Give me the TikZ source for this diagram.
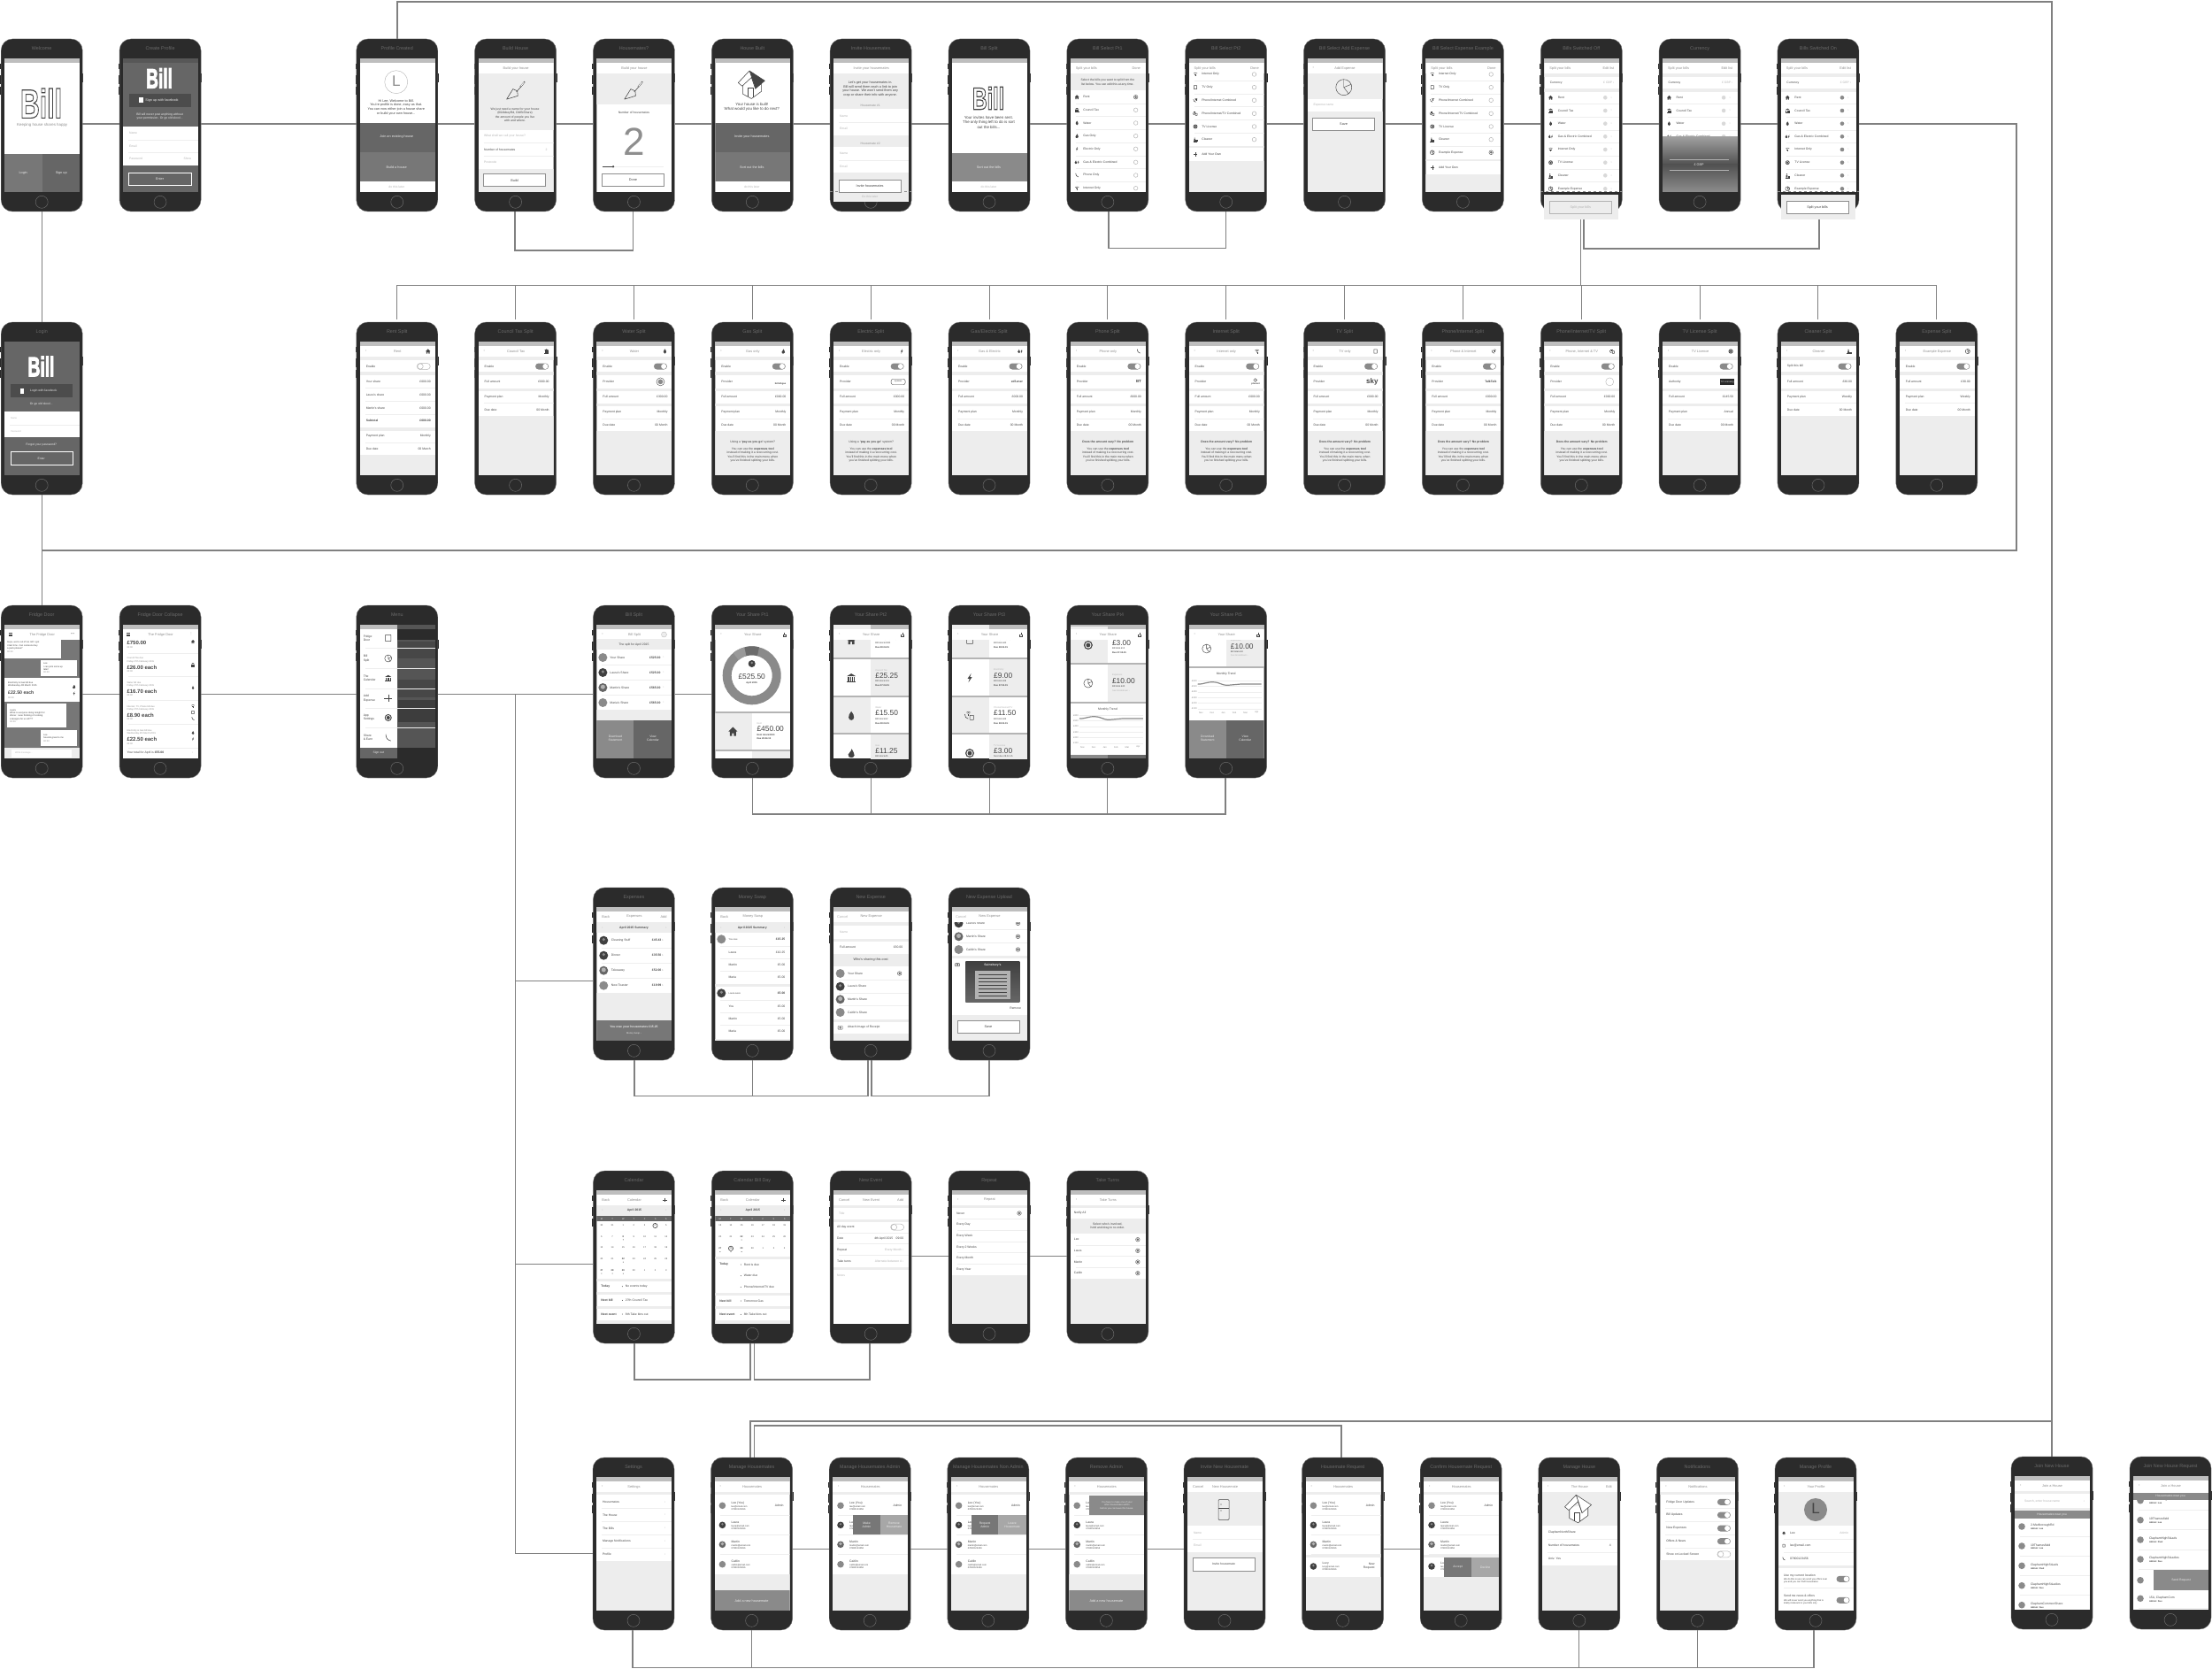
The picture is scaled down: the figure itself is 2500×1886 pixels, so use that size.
\documentclass[tikz,border=0pt]{standalone}
\usepackage{fontspec}
\setmainfont{Liberation Sans}
\newfontfamily\djv{DejaVu Sans}
\usetikzlibrary{calc}
\definecolor{bodyc}{HTML}{2B2B2B}
\definecolor{ttlc}{HTML}{6A6A6A}
\definecolor{txtc}{HTML}{444444}
\definecolor{navc}{HTML}{8E8E8E}
\definecolor{litec}{HTML}{B4B4B4}
\definecolor{bandc}{HTML}{EDEDED}
\definecolor{barc}{HTML}{BEBEBE}
\definecolor{btnA}{HTML}{666666}
\definecolor{btnB}{HTML}{777777}
\definecolor{btnC}{HTML}{8A8A8A}
\definecolor{hairc}{HTML}{EEEEEE}
\definecolor{connc}{HTML}{808080}
\tikzset{
 phonebody/.style={fill=bodyc,draw=ttlc,line width=.4pt,rounded corners=13pt,minimum width=92pt,minimum height=195pt,inner sep=0pt},
 tx/.style={inner sep=0pt,outer sep=0pt,text=txtc,font=\fontsize{3.8}{4.9}\selectfont},
 ttl/.style={text=ttlc,font=\fontsize{5.4}{6}\selectfont},
 navt/.style={text=navc,font=\fontsize{3.9}{5}\selectfont},
 lite/.style={text=litec},
 wt/.style={text=white!92!black},
 tt/.style={font=\fontsize{2.6}{3.3}\selectfont},
 ts/.style={font=\fontsize{3.4}{4.3}\selectfont},
 tm/.style={font=\fontsize{4.4}{5.5}\selectfont},
 conn/.style={draw=connc,line width=1.5pt},
 connt/.style={draw=connc,line width=1pt},
 hair/.style={draw=hairc,line width=.5pt},
 homeb/.style={draw=ttlc,line width=.5pt},
 btnline/.style={draw=navc,line width=.9pt},
}
\newcount\tcnt
\newcommand\xtxt[5]{\global\advance\tcnt by 1\relax\node[tx,#2,#1] (t\the\tcnt) at (#3,#4) {#5};}
\newcommand\xL[4][]{\xtxt{#1}{anchor=west,align=left}{#2}{#3}{#4}}
\newcommand\xC[4][]{\xtxt{#1}{anchor=center,align=center}{#2}{#3}{#4}}
\newcommand\xR[4][]{\xtxt{#1}{anchor=east,align=right}{#2}{#3}{#4}}
\newcommand\xB[5]{\fill[#5] (#1,#2) rectangle (#3,#4);}
\newcommand\bk[2]{\fill[bandc] (0,#1) rectangle (85,#2);}
\newcommand\xH[1]{\draw[hair] (6,#1) -- (85,#1);}
\newcommand\nonempty[2]{\if\relax\detokenize{#1}\relax\else #2\fi}
\newcommand\nav[3]{\fill[white] (0,5.3) rectangle (85,17);
 \nonempty{#1}{\xL[navt]{6}{11}{#1}}\nonempty{#2}{\xC[navt]{42.5}{11}{#2}}\nonempty{#3}{\xR[navt]{79}{11}{#3}}}
\newcommand\btn[5][black!0]{\draw[btnline,fill=#1] (6,#2) rectangle (76,#3);\xC[#4]{41}{#2/2+#3/2}{#5}}
\newcommand\radio[2]{\draw[litec,line width=.5pt] (#1,#2) circle (2.3);}
\newcommand\radioOn[2]{\draw[btnA,line width=.5pt] (#1,#2) circle (2.3);\fill[btnA] (#1,#2) circle (1.4);}
\newcommand\togOn[2]{\fill[btnC,rounded corners=3.5pt] (#1-7.5,#2-3.5) rectangle (#1+7.5,#2+3.5);\fill[white] (#1+3.7,#2) circle (3);}
\newcommand\togOff[2]{\draw[litec,line width=.5pt,rounded corners=3.5pt] (#1-7.5,#2-3.5) rectangle (#1+7.5,#2+3.5);\draw[litec,line width=.5pt,fill=white] (#1-3.7,#2) circle (3.2);}
\newcommand\avG[3][3.8]{\fill[btnC] (#2,#3) circle (#1);}
\newcommand\avD[3][3.8]{\fill[bodyc!90!white] (#2,#3) circle (#1);\fill[btnC] (#2,#3-1) circle (#1*.35);}
\newcommand\avM[3][3.8]{\fill[btnA] (#2,#3) circle (#1);\fill[white!70!black] (#2,#3-.8) circle (#1*.5);}
% icons
\newcommand\icohouse{\fill (-1,0)--(0,-1)--(1,0)--(.7,0)--(.7,1)--(.2,1)--(.2,.4)--(-.2,.4)--(-.2,1)--(-.7,1)--(-.7,0)--cycle;}
\newcommand\icotemple{\fill (-1,-.4)--(0,-1)--(1,-.4)--cycle;\fill (-.8,-.2) rectangle (-.5,.75);\fill (-.3,-.2) rectangle (-.05,.75);\fill (.1,-.2) rectangle (.35,.75);\fill (.55,-.2) rectangle (.8,.75);\fill (-1,.8) rectangle (1,1);}
\newcommand\icodrop{\fill (0,-1) .. controls (.9,0) and (.7,1) .. (0,1) .. controls (-.7,1) and (-.9,0) .. (0,-1);}
\newcommand\icoflame{\fill (.1,-1) .. controls (.3,-.3) and (.8,0) .. (.7,.5) .. controls (.6,.9) and (.3,1) .. (0,1) .. controls (-.4,1) and (-.8,.8) .. (-.7,.3) .. controls (-.6,-.1) and (-.1,-.2) .. (.1,-1);}
\newcommand\icobolt{\fill (.3,-1)--(-.5,.15)--(-.05,.15)--(-.3,1)--(.5,-.2)--(.05,-.2)--cycle;}
\newcommand\icoge{\begin{scope}[shift={(-.55,0)},scale=.8]\icoflame\end{scope}\begin{scope}[shift={(.6,0)},scale=.8]\icobolt\end{scope}}
\newcommand\icophone{\draw[line width=.55pt] (-.6,-.9) .. controls (-.7,0) and (-.1,.7) .. (.7,.8);}
\newcommand\icowifi{\draw[line width=.4pt] (-.9,-.4) .. controls (-.4,-.9) and (.4,-.9) .. (.9,-.4);\draw[line width=.4pt] (-.5,0) .. controls (-.2,-.35) and (.2,-.35) .. (.5,0);\fill (0,.4) circle (.22);\draw[line width=.4pt] (0,.4)--(0,1);}
\newcommand\icotv{\draw[line width=.5pt,rounded corners=.3pt] (-.7,-.85) rectangle (.7,.85);}
\newcommand\icopw{\begin{scope}[shift={(.35,-.3)},scale=.7]\icowifi\end{scope}\begin{scope}[shift={(-.4,.2)},scale=.8]\icophone\end{scope}}
\newcommand\icopwt{\begin{scope}[shift={(-.3,-.5)},scale=.55]\icowifi\end{scope}\begin{scope}[shift={(-.75,.2)},scale=.6]\icophone\end{scope}\begin{scope}[shift={(.45,.4)},scale=.6]\icotv\end{scope}}
\newcommand\icolic{\fill (0,0) circle (1);\fill[white] (0,0) circle (.72);\fill (0,0) circle (.5);}
\newcommand\icoclean{\fill (-.35,-.65) circle (.28);\fill (-.8,1)--(-.6,-.25)--(-.05,-.25)--(.1,1)--cycle;\draw[line width=.35pt] (-1,1)--(1,1);\foreach \q in {.25,.5,.75}{\draw[line width=.4pt] (\q,1)--(\q,.3);}}
\newcommand\icopie{\draw[line width=.45pt] (0,0) circle (1);\draw[line width=.45pt] (0,-1)--(0,0)--(.92,-.38);\draw[line width=.45pt] (0,0)--(.6,.8);}
\newcommand\icoplus{\draw[line width=.4pt] (-1,0)--(1,0);\draw[line width=.4pt] (0,-1)--(0,1);}
\newcommand\icoham{\draw[line width=.45pt] (-1,-.7)--(1,-.7);\draw[line width=.45pt] (-1,0)--(1,0);\draw[line width=.45pt] (-1,.7)--(1,.7);}
\newcommand\icotrowel{\draw[line width=.55pt,line join=round] (-1,.95)--(.15,.6)--(.1,.1)--(-.35,-.1)--cycle;\draw[line width=.55pt] (0,.2)--(.4,-.25);\draw[line width=1.6pt] (.4,-.3)--(.85,-.85);\draw[line width=.9pt,white] (.45,-.38)--(.8,-.8);}
\newcommand\icodown{\draw[line width=.4pt] (0,-1)--(0,.2);\draw[line width=.45pt] (-.6,.2)--(-.6,.9)--(.6,.9)--(.6,.2)--(.3,.2);\fill (-.3,0)--(.3,0)--(0,.4)--cycle;}
\newcommand\icocam{\draw[line width=.4pt,rounded corners=.4pt] (-1,-.6) rectangle (1,.8);\draw[line width=.4pt] (0,.1) circle (.4);}
\newcommand\ico[4]{\begin{scope}[shift={(#2,#3)},scale=#4,color=txtc]\csname ico#1\endcsname\end{scope}}
\newcommand\houseBig[4]{\begin{scope}[shift={(#1,#2)},scale=#3,line join=round]
 \draw[txtc,line width=.55pt,fill=white] (-.65,-.1)--(-.65,.75)--(0,1.1)--(.75,.55)--(.75,-.2);
 \draw[txtc,line width=.55pt,fill=#4] (-.15,-1)--(1,-.25)--(.3,.35)--(-.15,-1);
 \draw[txtc,line width=.55pt,fill=white] (-.15,-1)--(-1,-.1)--(-.7,.15)--(0,-.5)--(.3,.35)--cycle;
 \draw[txtc,line width=.5pt] (-.3,.95)--(-.3,.3)--(.1,.3)--(.1,1);
\end{scope}}
\newfontfamily\logofont{Liberation Sans}
\newcommand\logoFill[3]{\global\advance\tcnt by 1\relax\node[inner sep=0pt,text=white,font=\logofont\fontsize{#3}{#3}\selectfont\bfseries] (t\the\tcnt) at (#1,#2) {\scalebox{.62}[1]{\special{pdf:code 2 Tr 1.1 w}Bill\special{pdf:code 0 Tr 1 w}}};}
\newcommand\logoOut[3]{\global\advance\tcnt by 1\relax\node[inner sep=0pt,text=txtc,font=\logofont\fontsize{#3}{#3}\selectfont\bfseries] (t\the\tcnt) at (#1,#2) {\scalebox{.66}[1]{\special{pdf:code 1 Tr 1.2 w}Bill\special{pdf:code 0 Tr 1 w}}};}
% phone
\newcommand\phone[5]{%
 \fill[bodyc] (#2-1,#3+28) rectangle (#2+1,#3+34);
 \fill[bodyc] (#2-1,#3+41) rectangle (#2+1,#3+51);
 \fill[bodyc] (#2-1,#3+54) rectangle (#2+1,#3+63);
 \fill[bodyc] (#2+91,#3+39) rectangle (#2+93,#3+49);
 \node[phonebody] (#1) at (#2+46,#3+97.5) {};
 \xC[ttl]{#2+46}{#3+11}{#4}
 \draw[homeb] (#2+46,#3+184.3) circle (7);
 \begin{scope}[shift={(#2+4,#3+22)}]
  \clip (0,0) rectangle (85,151);
  \fill[white] (0,0) rectangle (85,151);
  \fill[barc] (0,0) rectangle (85,5.3);
  #5
 \end{scope}}
\newcommand\ovl[3]{\begin{scope}[shift={(#1+4,#2+22)}]#3\end{scope}}
% list rows
\newcommand\lrow[4]{\ico{#2}{7.3}{#1}{2.4}\xL[ts]{14.6}{#1}{#3}\ifnum#4=1 \radioOn{73.8}{#1}\else\radio{73.8}{#1}\fi}
\newcommand\srow[4]{\ico{#2}{7.3}{#1}{2.4}\xL[ts]{15.5}{#1}{#3}\fill[#4] (69,#1) circle (2.3);\xC[ts,lite]{76}{#1}{›}}
\newcommand\billslist[1]{\nav{Split your bills}{}{Edit list}\bk{17}{21.3}\xL[ts]{6.5}{27.3}{Currency}\xR[ts,lite]{79}{27.3}{£ GBP ›}\bk{34}{38}
 \srow{44.3}{house}{Rent}{#1}\xH{51.5}\srow{59}{temple}{Council Tax}{#1}\xH{66.3}\srow{73.7}{drop}{Water}{#1}\xH{81}\srow{88.3}{ge}{Gas \& Electric Combined}{#1}\xH{95.7}\srow{103}{wifi}{Internet Only}{#1}\xH{110.3}\srow{117.7}{lic}{TV License}{#1}\xH{125}\srow{132.3}{clean}{Cleaner}{#1}\xH{139.7}\srow{147.3}{pie}{Example Expense}{#1}}
\newcommand\selecttail[1]{\nav{Split your bills}{}{Done}\lrow{18}{wifi}{Internet Only}{0}\xH{25.3}\lrow{32.7}{tv}{TV Only}{0}\xH{40}\lrow{47.3}{pw}{Phone/Internet Combined}{0}\xH{54.7}\lrow{62.3}{pwt}{Phone/Internet/TV Combined}{0}\xH{69.7}\lrow{77}{lic}{TV License}{0}\xH{84.3}\lrow{91.7}{clean}{Cleaner}{0}#1}
\newcommand\sR[3]{\xL[ts]{7}{#1}{#2}\xR[ts]{80}{#1}{#3}}
\newcommand\splithead[2]{\xL[navt]{6}{11}{‹}\xC[navt]{42.5}{11}{#1}\ico{#2}{77}{11}{2.6}}
\newcommand\fiveSplit[6]{\nav{}{}{}\splithead{#1}{#2}\bk{17}{21}\sR{28}{Enable}{}\togOn{72}{28}\bk{34}{38}\xL[ts]{7}{45.4}{#3}#4\bk{52.5}{56}\sR{62.2}{Full amount}{#5}\bk{69.5}{73}\sR{79.7}{Payment plan}{#6}\xH{87}\sR{94.4}{Due date}{00 Month}\bk{101}{151}}
\newcommand\probA{\xC[ts]{42.5}{113.6}{Using a \textbf{‘pay as you go’} system?}\xC[ts]{42.5}{128}{You can use the \textbf{expenses tool}\\instead of making it a reoccurring cost.\\You’ll find this in the main menu when\\you’ve finished splitting your bills.}}
\newcommand\probB{\xC[ts]{42.5}{113.6}{\textbf{Does the amount vary? No problem}}\xC[ts]{42.5}{128}{You can use the \textbf{expenses tool}\\instead of making it a reoccurring cost.\\You’ll find this in the main menu when\\you’ve finished splitting your bills.}}
\newcommand\fourSplit[5]{\nav{}{}{}\splithead{#1}{#2}\bk{17}{21}\sR{28}{#3}{}\togOn{72}{28}\bk{34}{38}\sR{45.4}{Full amount}{#4}\bk{52.5}{56}\sR{62.2}{Payment plan}{#5}\xH{69.5}\sR{77}{Due date}{00 Month}\bk{84.4}{151}}
\newcommand\card[8]{\ifnum#3=0 \fill[bandc] (0,#1) rectangle (42,#2);\else\fill[bandc] (42,#1) rectangle (85,#2);\fi
 \fill[litec] (0,#2) rectangle (85,#2+1.8);\ico{#4}{20}{#1+21}{5}\xL[tt,lite]{47.2}{#1+12}{#5}\xL[font=\fontsize{8.4}{9}\selectfont]{47.2}{#1+18.3}{#6}\xL[tt]{47.2}{#1+24.6}{#7}\xL[tt]{47.2}{#1+29.3}{\textbf{#8}}}
\newcommand\trend[1]{\foreach \j [count=\ii] in {£600,£500,£400,£300,£200,£100}{\draw[hair] (10,#1+\ii*6.33-6.33) -- (82,#1+\ii*6.33-6.33);\xR[tt,text=navc]{9}{#1+\ii*6.33-6.33}{\j}}
 \draw[btnC,line width=1.2pt] (10,#1+3.8) .. controls (18,#1+3.8) and (20,#1+1) .. (28,#1+1.5) .. controls (36,#1+2) and (36,#1+5) .. (44,#1+5) .. controls (52,#1+5) and (52,#1+3.6) .. (60,#1+3.6) -- (82,#1+3.6);
 \foreach \j [count=\ii] in {Nov,Dec,Jan,Feb,Mar,Apr}{\xC[tt,text=navc]{\ii*12.6+1}{#1+36}{\j}}}
\newcommand\twobtn{\fill[btnC] (0,107.7) rectangle (42,151);\fill[btnA] (42,107.7) rectangle (85,151);\xC[ts,wt]{21}{128}{Download\\Statement}\xC[ts,wt]{63.5}{128}{View\\Calendar}}
\newcommand\calrow[2]{\foreach \d [count=\ii] in {#2}{\xC[tt]{\ii*12.15-6.65}{#1}{\d}}}
\newcommand\calhead{\bk{17.3}{29.3}\xC[ts]{42.5}{22.7}{\textbf{April 2015}}\xL[ts,lite]{6}{22.7}{‹}\xR[ts,lite]{79}{22.7}{›}\fill[btnA] (0,29.3) rectangle (85,35);\foreach \d [count=\ii] in {M,T,W,T,F,S,S}{\xC[tt,wt]{\ii*12.15-6.65}{32.2}{\d}}}
\newcommand\calitem[3]{\xL[ts]{5}{#1}{\textbf{#2}}\fill[txtc] (29,#1) circle (.5);\xL[ts]{32.5}{#1}{#3}}
\newcommand\mate[5]{#5{8.8}{#1}\xL[ts]{19}{#1-3}{#2}\xL[tt]{19}{#1+1}{#3}\xL[tt]{19}{#1+3.8}{#4}}
\newcommand\housemates{\bk{17}{20.3}\mate{32.3}{Lee (You)}{lee@email.com}{07800123456}{\avG}\xR[ts]{78}{32.3}{Admin}\xH{43.3}\mate{54.3}{Laura}{laura@email.com}{07800123456}{\avD}\xH{65.3}\mate{76.3}{Martin}{martin@email.com}{07800123456}{\avM}\xH{87.7}}
\newcommand\caitlin{\mate{98.7}{Caitlin}{caitlin@email.com}{07800123456}{\avG}\bk{110}{151}}
\newcommand\lucy{\bk{87.7}{91}\mate{101}{Lucy}{lucy@email.com}{07800123456}{\avD}\bk{112.7}{151}}
\newcommand\joinrow[3]{\xH{#1+11}\avG{8}{#1}\xL[ts]{18}{#1-1}{#2}\xL[tt]{18}{#1+3}{\textbf{Admin: #3}}}
\newcommand\hlk[3]{\draw[conn] ([yshift=#3pt]#1.east) -- ([yshift=#3pt]#2.west);}
\newcommand\ulink[5]{\draw[conn] ([xshift=#2pt]#1.south) -- ++(0,#5) -| ([xshift=#4pt]#3.south);}
\begin{document}
\begin{tikzpicture}[x=1pt,y=-1pt]
\useasboundingbox (0,0) rectangle (2500,1886);
\fill[white] (0,0) rectangle (2500,1886);
%% ROW 1
\phone{welcome}{1.2}{44}{Welcome}{\logoOut{41.3}{50.7}{46}\xC[tm,text=navc]{42.5}{75}{Keeping house shares happy}
 \xB{0}{108}{42.5}{151}{btnB}\xB{42.5}{108}{85}{151}{btnA}\xC[wt]{21}{129.7}{Login}\xC[wt]{64}{129.7}{Sign up}}
\phone{create}{135.05}{44}{Create Profile}{\xB{0}{5.3}{85}{121.3}{btnA}\xB{0}{0}{85}{5.3}{btnA!85!black}\xB{0}{121.3}{85}{151}{btnA}\logoFill{41}{22.3}{31}
 \xB{7.3}{40}{76.6}{55}{btnA!75!black}\xB{18}{44.5}{23}{50.5}{white}\xC[wt]{44}{47.7}{Sign up with facebook}\xC[ts,wt]{41.5}{65.8}{Bill will never post anything without\\your permission. Or go old skool...}
 \xB{0}{77.3}{85}{121.3}{white}\xL[ts,lite]{7}{84.7}{Name}\xH{92}\xL[ts,lite]{7}{99}{Email}\xH{106.5}\xL[ts,lite]{7}{113.7}{Password}\xR[ts,lite]{77}{113.7}{Show}
 \draw[white,line width=.9pt] (6.4,129) rectangle (77.4,143.3);\xC[wt]{41.5}{136}{Enter}}
\phone{created}{402.75}{44}{Profile Created}{\draw[litec,line width=.4pt] (41,26.7) circle (13);\xC[font=\fontsize{17}{18}\selectfont,text=navc]{41}{26}{L}
 \xC{41}{55.4}{Hi Lee, Welcome to Bill.\\You’re profile is done, easy as that.\\You can now either join a house share\\or build your own house...}
 \xB{0}{72.7}{85}{106}{btnA}\xC[wt]{41.5}{89}{Join an existing house}\xB{0}{106}{85}{139}{btnB}\xC[wt]{41.5}{122.7}{Build a house}\xC[ts,lite]{41.5}{145.3}{do this later}}
\phone{build}{536.6}{44}{Build House}{\nav{}{Build your house}{}\bk{17}{80.7}\ico{trowel}{43}{35.7}{11}
 \xC[ts]{41.5}{63.8}{We just need a name for your house\\(60AbbeyRd, OldStShare)\\the amount of people you live\\with and where.}
 \xL[ts,lite]{6.5}{88}{What shall we call your house?}\xH{95.5}\xL[ts]{6.5}{103}{Number of housemates}\xR[ts,lite]{78}{103}{2}\xH{110.5}\xL[ts,lite]{6.5}{117.7}{Postcode}\bk{124.7}{151}\btn{130.7}{144.7}{}{Build}}
\phone{mates}{670.45}{44}{Housemates?}{\nav{}{Build your house}{}\bk{17}{52.3}\ico{trowel}{42.3}{35.7}{11}\xC[ts]{42}{61.7}{Number of housemates}
 \xC[font=\fontsize{44}{46}\selectfont,text=navc]{42}{94}{2}\draw[hair] (6.3,122.3) -- (76,122.3);\draw[txtc,line width=.5pt] (6.3,122.3) -- (18.6,122.3);\fill[txtc] (18.6,122.3) circle (1.3);\btn{130.7}{144.7}{}{Done}}
\phone{built}{804.3}{44}{House Built}{\houseBig{41}{29}{15}{txtc}\xC[tm]{41.5}{54.8}{Your house is built!\\What would you like to do next?}
 \xB{0}{72.7}{85}{106}{btnA}\xC[wt]{41.5}{89}{Invite your housemates}\xB{0}{106}{85}{139}{btnB}\xC[wt]{41.5}{122.7}{Sort out the bills}\xC[ts,lite]{41.5}{145.3}{do this later}}
\phone{invite}{938.15}{44}{Invite Housemates}{\nav{}{Invite your housemates}{}\bk{17}{57.3}\xC{41.5}{34.5}{Let’s get your housemates in.\\Bill will send them each a link to join\\your house. We won’t send them any\\crap or share their info with anyone.}\xC[ts,text=navc]{41.5}{53.3}{Housemate \#1}
 \xL[ts,lite]{7}{65}{Name}\xH{72.3}\xL[ts,lite]{7}{79.7}{Email}\bk{86.7}{100}\xC[ts,text=navc]{41.5}{96}{Housemate \#2}\xL[ts,lite]{7}{107.7}{Name}\xH{115}\xL[ts,lite]{7}{122.3}{Email}\bk{129}{151}}
\ovl{938.15}{44}{\fill[bandc] (0,151) rectangle (85,162.3);\draw[navc,line width=.3pt,dashed] (-4,150) -- (88,150);\btn{137.3}{151.3}{}{Invite housemates}\xC[ts,lite]{41}{156.3}{Do this later}}
\phone{billsplit1}{1072}{44}{Bill Split}{\logoOut{41}{45}{35}\xC[tm]{41.5}{72.3}{Your invites have been sent.\\The only thing left to do is sort\\out the bills...}\xB{0}{106.7}{85}{139}{btnC}\xC[wt]{41.5}{122.7}{Sort out the bills}\xC[ts,lite]{41.5}{145.3}{do this later}}
\phone{sel1}{1205.85}{44}{Bill Select Pt1}{\nav{Split your bills}{}{Done}\bk{17}{36.3}\xC[ts]{42}{27}{Select the bills you want to split from the\\list below. You can edit this at any time.}
 \lrow{43.7}{house}{Rent}{1}\xH{51}\lrow{58.3}{temple}{Council Tax}{0}\xH{65.6}\lrow{73}{drop}{Water}{0}\xH{80.3}\lrow{87.7}{flame}{Gas Only}{0}\xH{95}\lrow{102.3}{bolt}{Electric Only}{0}\xH{109.8}\lrow{117.3}{ge}{Gas \& Electric Combined}{0}\xH{124.6}\lrow{132}{phone}{Phone Only}{0}\xH{139.3}\lrow{146.7}{wifi}{Internet Only}{0}}
\phone{sel2}{1339.7}{44}{Bill Select Pt2}{\selecttail{\bk{99.3}{101.3}\ico{plus}{7.3}{108.7}{2.2}\xL[ts]{14.6}{108.7}{Add Your Own}\bk{115.7}{151}}}
\phone{seladd}{1473.55}{44}{Bill Select Add Expense}{\nav{‹}{Add Expense}{}\bk{17}{45.7}\ico{pie}{41.2}{32.7}{9}\xL[ts,lite]{7}{53}{Expense name}\bk{60}{151}\btn{67.3}{81.7}{}{Save}}
\phone{selex}{1607.4}{44}{Bill Select Expense Example}{\selecttail{\xH{99}\ico{pie}{7.3}{106.3}{2.4}\xL[ts]{14.6}{106.3}{Example Expense}\radioOn{73.8}{106.3}\bk{113.7}{116}\ico{plus}{7.3}{123.7}{2.2}\xL[ts]{14.6}{123.7}{Add Your Own}\bk{130.7}{151}}}
\phone{billsoff}{1741.25}{44}{Bills Switched Off}{\billslist{black!15}}
\ovl{1741.25}{44}{\fill[bandc] (0,154) rectangle (84,181.7);\draw[navc,line width=.3pt,dashed] (-4,150.5) -- (88,150.5);\draw[btnline,draw=litec] (6,161.3) rectangle (76,175.7);\xC[lite]{41}{168.5}{Split your bills}}
\phone{currency}{1875.1}{44}{Currency}{\nav{Split your bills}{}{Edit list}\bk{17}{21.3}\xL[ts]{6.5}{27.3}{Currency}\xR[ts,lite]{79}{27.3}{£ GBP ›}\bk{34}{38}
 \srow{44.3}{house}{Rent}{black!15}\xH{51.5}\srow{59}{temple}{Council Tax}{black!15}\xH{66.3}\srow{73.7}{drop}{Water}{black!15}\xH{81}\srow{88.3}{ge}{Gas \& Electric Combined}{black!15}
 \shade[top color=black!38,bottom color=black!68] (0,89) rectangle (85,120);\shade[top color=black!68,bottom color=black!45] (0,120) rectangle (85,151);\draw[white!70!black,line width=.3pt] (7.6,114.3) -- (74.7,114.3);\draw[white!70!black,line width=.3pt] (7.6,126) -- (74.7,126);\xC[wt]{41}{120.3}{£ GBP}}
\phone{billson}{2008.95}{44}{Bills Switched On}{\billslist{btnC}}
\ovl{2008.95}{44}{\fill[bandc] (0,154) rectangle (84,181.7);\draw[navc,line width=.3pt,dashed] (-4,150.5) -- (88,150.5);\btn{161.3}{175.7}{}{Split your bills}}
%% ROW 2
\phone{login}{1.2}{364}{Login}{\xB{0}{0}{85}{151}{btnA}\logoFill{41.3}{28}{31}\xB{7}{48}{77}{63}{btnA!75!black}\xB{17.5}{52.5}{21.5}{58.5}{white}\xC[ts,wt]{44}{55.5}{Login with facebook}\xC[ts,wt]{41.5}{71}{Or go old skool...}
 \xB{0}{79}{85}{108.3}{white}\xL[tt,lite]{7}{86.9}{Name}\xH{94}\xL[tt,lite]{7}{101.1}{Password}\xC[ts,wt]{41.5}{116.5}{Forgot your password?}\draw[white,line width=.9pt] (7,124.7) rectangle (77,139.7);\xC[ts,wt]{41.5}{132}{Enter}}
\phone{rents}{402.75}{364}{Rent Split}{\nav{}{}{}\splithead{Rent}{house}\bk{17}{21}\sR{28}{Enable}{}\togOff{72}{28}\bk{34}{38}\sR{45.4}{Your share}{£000.00}\xH{52.7}\sR{60}{Laura’s share}{£000.00}\xH{67.4}\sR{75}{Martin’s share}{£000.00}\xH{82.4}\sR{89.7}{\textbf{Subtotal}}{\textbf{£000.00}}\bk{97}{101}\sR{106.9}{Payment plan}{Monthly}\xH{114.2}\sR{121.5}{Due date}{00 March}\bk{128}{151}}
\phone{councils}{536.6}{364}{Council Tax Split}{\fourSplit{Council Tax}{temple}{Enable}{£000.00}{Monthly}}
\phone{waters}{670.45}{364}{Water Split}{\fiveSplit{Water}{drop}{Provider}{\draw[txtc,line width=.4pt] (72,45.4) circle (4.5);\fill[btnC] (72,45.4) circle (2.8);}{£300.00}{Monthly}}
\phone{gass}{804.3}{364}{Gas Split}{\fiveSplit{Gas only}{flame}{Provider}{\xR[tt]{80}{47.5}{\textbf{britishgas}}}{£000.00}{Monthly}\probA}
\phone{elecs}{938.15}{364}{Electric Split}{\fiveSplit{Electric only}{bolt}{Provider}{\draw[txtc,line width=.4pt,rounded corners=2pt] (65,42.5) rectangle (81,48.5);\xC[tt]{73}{45.5}{npower}}{£000.00}{Monthly}\probA}
\phone{ges}{1072}{364}{Gas/Electric Split}{\fiveSplit{Gas \& Electric}{ge}{Provider}{\xR[ts]{80}{45.4}{\textbf{edf.ener}}}{£000.00}{Monthly}}
\phone{phones}{1205.85}{364}{Phone Split}{\fiveSplit{Phone only}{phone}{Provider}{\xR[tm]{80}{45.4}{\textbf{BT}}}{£000.00}{Monthly}\probB}
\phone{nets}{1339.7}{364}{Internet Split}{\fiveSplit{Internet only}{wifi}{Provider}{\xR[tt]{80}{48}{\textbf{plusnet}}\draw[txtc,line width=.4pt] (75,43.5) circle (1.8);}{£000.00}{Monthly}\probB}
\phone{tvs}{1473.55}{364}{TV Split}{\fiveSplit{TV only}{tv}{Provider}{\xR[font=\fontsize{8}{9}\selectfont]{80}{45.4}{\textbf{sky}}}{£000.00}{Monthly}\probB}
\phone{pis}{1607.4}{364}{Phone/Internet Split}{\fiveSplit{Phone \& Internet}{pw}{Provider}{\xR[ts]{80}{45.4}{\textbf{TalkTalk}}}{£000.00}{Monthly}\probB}
\phone{pits}{1741.25}{364}{Phone/Internet/TV Split}{\fiveSplit{Phone, Internet \& TV}{pwt}{Provider}{\draw[litec,line width=.4pt] (74,45.4) circle (4.5);}{£000.00}{Monthly}\probB}
\phone{lics}{1875.1}{364}{TV License Split}{\fiveSplit{TV Licence}{lic}{Authority}{\xB{65}{42}{81}{49}{bodyc}\xC[tt,wt]{73}{45.5}{TV Licensing}}{£145.50}{Annual}}
\phone{cleans}{2008.95}{364}{Cleaner Split}{\fourSplit{Cleaner}{clean}{Split this bill}{£30.00}{Weekly}}
\phone{exps}{2142.8}{364}{Expense Split}{\fourSplit{Example Expense}{pie}{Enable}{£30.00}{Weekly}}
%% ROW 3
\phone{fridge}{1.2}{684}{Fridge Door}{\xB{0}{5.3}{85}{151}{btnB}\nav{}{The Fridge Door}{}\ico{ham}{6.3}{11}{2}\xR[navt]{79}{10.5}{•••}
 \xB{0}{16.9}{63.7}{37.6}{white}\xL[tt]{3}{25}{Guys, we’re out of loo roll! I got\\it last time. Can someone buy\\a pack please?\\[.3pt]\textcolor{navc}{00:00}}
 \xB{40.7}{40}{82}{58}{white}\xL[tt]{44}{49}{Lee\\I can pick some up\\later!\\[.3pt]\textcolor{navc}{00:00}}
 \xB{0}{60}{85}{86.9}{white}\xL[tt]{4}{67}{Electricity \& Gas bill due\\Wednesday 4th March 2015}\xL[font=\fontsize{5.2}{6}\selectfont]{4}{76.9}{\textbf{£22.50 each}}\xL[tt,text=navc]{4}{82.5}{00:00}\ico{flame}{78.5}{70}{2.2}\ico{bolt}{78.5}{77.5}{2.2}
 \xB{2.5}{89.4}{70}{116}{white}\xL[tt]{6}{103}{Laura\\What is everyone doing tonight for\\dinner. I was thinking of cooking\\a lasagne for us all???\\[.3pt]\textcolor{navc}{00:00}}
 \xB{40.7}{119}{82}{136.5}{white}\xL[tt]{44}{128}{Lee\\Sounds great to me\\[.3pt]\textcolor{navc}{00:00}}
 \xB{0}{139.4}{85}{151}{bandc}\xB{8}{140.5}{76}{149.5}{white}\xL[tt,lite]{12}{145}{Write message...}}
\phone{fridgec}{135.05}{684}{Fridge Door Collapse}{\nav{}{The Fridge Door}{}\ico{ham}{6.3}{11}{2}\xR[navt]{79}{10.5}{{\djv ⋮}}\xL[font=\fontsize{6}{7}\selectfont]{4.5}{20.4}{\textbf{£750.00}}\xL[tt,text=navc]{4.5}{26}{00:00}\ico{house}{79}{19}{2}\xH{32}
 \xL[tt,text=navc]{4.5}{39.7}{Council Tax due\\Friday 27th February 2015}\xL[font=\fontsize{6}{7}\selectfont]{4.5}{48}{\textbf{£26.00 each}}\xL[tt,text=navc]{4.5}{53}{00:00}\ico{temple}{79}{45}{2}\xH{58}
 \xL[tt,text=navc]{4.5}{67}{Water bill due\\Friday 27th February 2015}\xL[font=\fontsize{6}{7}\selectfont]{4.5}{75}{\textbf{£16.70 each}}\xL[tt,text=navc]{4.5}{80}{00:00}\ico{drop}{79}{71}{2}\xH{85.4}
 \xL[tt,text=navc]{4.5}{94}{Internet, TV, Phone bill due\\Friday 27th February 2015}\xL[font=\fontsize{6}{7}\selectfont]{4.5}{102}{\textbf{£8.90 each}}\xL[tt,text=navc]{4.5}{107}{00:00}\ico{wifi}{79}{92}{2}\ico{tv}{79}{99}{2}\ico{phone}{79}{106}{2}\xH{112.6}
 \xL[tt,text=navc]{4.5}{121}{Electricity \& Gas bill due\\Wednesday 4th March 2015}\xL[font=\fontsize{6}{7}\selectfont]{4.5}{129.4}{\textbf{£22.50 each}}\xL[tt,text=navc]{4.5}{135}{00:00}\ico{flame}{79}{122}{2}\ico{bolt}{79}{129}{2}\xH{139.4}
 \xL[ts]{4.5}{144.7}{Your total for April is \textbf{£55.00}}\xR[ts,lite]{79}{144.7}{›}}
\phone{menu}{402.75}{684}{Menu}{\xB{0}{0}{85}{151}{bodyc!80!white}\xB{0}{0}{42}{5.3}{barc}\xB{42}{5.3}{85}{17}{bodyc}\xB{43}{19}{85}{38}{btnA!70!black}\xB{43}{62}{85}{82}{btnA!70!black}\xB{43}{85}{85}{110}{btnA!60!black}\xB{42}{139.4}{85}{151}{bodyc}
 \xB{0}{5.3}{42}{151}{white}\xL[ts]{4}{15}{Fridge\\Door}\xL[ts]{4}{38}{Bill\\Split}\xL[ts]{4}{60.4}{The\\Calendar}\xL[ts]{4}{83}{Add\\Expense}\xL[ts]{4}{105}{App\\Settings}\xL[ts]{4}{127.6}{Share\\\& Earn}
 \ico{tv}{32}{15}{4.4}\ico{pie}{32}{38}{4}\ico{temple}{32}{60.4}{3.6}\ico{plus}{32}{83}{4.4}\ico{lic}{32}{105}{4}\ico{phone}{32}{127.6}{4.4}\xH{26.5}\xH{49}\xH{72}\xH{94}\xH{116}
 \xB{0}{139.4}{42}{151}{btnA}\xC[ts,wt]{21}{145}{Sign out}}
\phone{split}{670.45}{684}{Bill Split}{\nav{‹}{Bill Split}{}\draw[litec,fill=bandc,line width=.3pt] (76,11) circle (3);\bk{16.3}{28.3}\xC[ts]{42}{22.7}{The split for April 2015}
 \avG[5]{6.9}{37}\xL[ts]{15}{37}{Your Share}\xR[ts]{72}{37}{\textbf{£525.00}}\xR[ts,lite]{76}{37}{›}\xH{45.5}\avD[5]{6.9}{54}\xL[ts]{15}{54}{Laura’s Share}\xR[ts]{72}{54}{\textbf{£525.00}}\xR[ts,lite]{76}{54}{›}\xH{62.5}\avM[5]{6.9}{71}\xL[ts]{15}{71}{Martin’s Share}\xR[ts]{72}{71}{\textbf{£565.00}}\xR[ts,lite]{76}{71}{›}\xH{79.5}\avG[5]{6.9}{88}\xL[ts]{15}{88}{Maria’s Share}\xR[ts]{72}{88}{\textbf{£565.00}}\xR[ts,lite]{76}{88}{›}\bk{96.3}{107.7}\twobtn}
\phone{sh1}{804.3}{684}{Your Share Pt1}{\nav{‹}{Your Share}{}\ico{down}{78}{11}{2.4}\draw[btnC,line width=10pt] (41.4,57.3) circle (28);\draw[black!40,line width=10pt] ([shift={(-130:28)}]41.4,57.3) arc (-130:-105:28);\draw[black!58,line width=10pt] ([shift={(-105:28)}]41.4,57.3) arc (-105:-75:28);\avD[4]{41.4}{44}\xC[font=\fontsize{8.4}{9}\selectfont]{41.4}{59}{£525.50}\xC[tt]{41.4}{66}{\textbf{April 2015}}
 \fill[litec] (0,97.7) rectangle (85,99.5);\card{99.5}{140.7}{0}{house}{Rent}{£450.00}{\textbf{Rent total £2000}}{Due 28.04.15}\xB{42}{142.5}{85}{151}{bandc}}
\phone{sh2}{938.15}{684}{Your Share Pt2}{\card{-4}{37.3}{0}{house}{Rent}{£450.00}{Bill total £2000}{Due 28.04.15}\card{39.1}{80}{1}{temple}{Council Tax}{£25.25}{Bill total £101}{Due 27.04.15}\card{81.8}{122.3}{0}{drop}{Water}{£15.50}{Bill total £62}{Due 28.04.15}\card{124.1}{165}{1}{flame}{Gas}{£11.25}{Bill total £45}{Due 28.04.15}\nav{‹}{Your Share}{}\ico{down}{78}{11}{2.4}}
\phone{sh3}{1072}{684}{Your Share Pt3}{\card{-4}{37.3}{0}{tv}{TV}{£3.00}{Bill total £40}{Due 28.04.15}\card{39.1}{80}{1}{bolt}{Electricity}{£9.00}{Bill total £36}{Due 27.04.15}\card{81.8}{122.3}{0}{pwt}{Phone/Internet/TV}{£11.50}{Bill total £46}{Due 28.04.15}\card{124.1}{165}{1}{lic}{TV License}{£3.00}{Next due 28.04.15}{}\nav{‹}{Your Share}{}\ico{down}{78}{11}{2.4}}
\phone{sh4}{1205.85}{684}{Your Share Pt4}{\card{2}{43.3}{0}{lic}{TV License}{£3.00}{Bill total £12}{Due 27.04.15}\card{45.1}{86.7}{1}{pie}{Expenses}{£10.00}{Bill total £40}{}\xL[tt,lite]{47.2}{74.5}{See breakdown ›}\xC[ts]{42}{95.3}{Monthly Trend}\trend{102.3}\xB{0}{146.7}{42}{151}{btnC}\xB{42}{146.7}{85}{151}{btnA}\nav{‹}{Your Share}{}\ico{down}{78}{11}{2.4}}
\phone{sh5}{1339.7}{684}{Your Share Pt5}{\card{6}{47.3}{1}{pie}{Expenses}{£10.00}{Bill total £40}{}\xL[tt,lite]{47.2}{35}{See breakdown ›}\xC[ts]{42}{56}{Monthly Trend}\trend{63.3}\twobtn\nav{‹}{Your Share}{}\ico{down}{78}{11}{2.4}}
%% ROW 4
\phone{expenses}{670.45}{1003}{Expenses}{\nav{Back}{Expenses}{Add}\bk{17.3}{29.3}\xC[ts]{42}{23.3}{\textbf{April 2015 Summary}}\xL[ts,lite]{6}{23.3}{‹}\xR[ts,lite]{79}{23.3}{›}
 \avD[5]{7.8}{37.7}\xL[ts]{16.5}{37.7}{Cleaning Stuff}\xR[ts]{75}{37.7}{\textbf{£45.43} ›}\xH{46}\avD[5]{7.8}{54.7}\xL[ts]{16.5}{54.7}{Dinner}\xR[ts]{75}{54.7}{\textbf{£35.50} ›}\xH{63}\avM[5]{7.8}{71.7}\xL[ts]{16.5}{71.7}{Takeaway}\xR[ts]{75}{71.7}{\textbf{£52.00} ›}\xH{80}\avG[5]{7.8}{88.7}\xL[ts]{16.5}{88.7}{New Toaster}\xR[ts]{75}{88.7}{\textbf{£19.99} ›}\bk{97}{128}\xB{0}{128}{85}{151}{btnB}\xC[ts,wt]{42}{136}{\textbf{You owe your housemates £15.25}}\xC[tt,wt]{42}{142.7}{Money Swap ›}}
\phone{swap}{804.3}{1003}{Money Swap}{\nav{Back}{Money Swap}{}\bk{17.3}{29.3}\xC[ts]{42}{23.3}{\textbf{April 2015 Summary}}\xL[ts,lite]{6}{23.3}{‹}\xR[ts,lite]{79}{23.3}{›}
 \avG[5]{7}{36.3}\xL[tt]{15.3}{36.3}{You owe}\xR[ts]{79}{36.3}{\textbf{£15.25}}\xH{44}\xL[ts]{15.3}{51.3}{Laura}\xR[ts]{79}{51.3}{£10.25}\xH{58.5}\xL[ts]{15.3}{65.3}{Martin}\xR[ts]{79}{65.3}{£5.00}\xH{72.5}\xL[ts]{15.3}{79.7}{Maria}\xR[ts]{79}{79.7}{£5.00}\bk{86.7}{90.3}
 \avD[5]{7}{97.3}\xL[tt]{15.3}{97.3}{Laura owes}\xR[ts]{79}{97.3}{\textbf{£5.00}}\xH{105}\xL[ts]{15.3}{112}{You}\xR[ts]{79}{112}{£5.00}\xH{119}\xL[ts]{15.3}{126.3}{Martin}\xR[ts]{79}{126.3}{£5.00}\xH{133.5}\xL[ts]{15.3}{140.7}{Maria}\xR[ts]{79}{140.7}{£5.00}\bk{148.7}{151}}
\phone{newexp}{938.15}{1003}{New Expense}{\nav{}{New Expense}{}\xL[navt,lite]{4}{11}{Cancel}\bk{17}{21}\xL[ts,lite]{7}{28.3}{Name}\bk{35.7}{39}\xL[ts]{7}{45}{Full amount}\xR[ts]{78}{45}{£30.00}\bk{53}{67}\xC{42}{60}{Who’s sharing this cost}
 \avG[5]{7.5}{75}\xL[ts]{16}{75}{Your Share}\radioOn{74.5}{75}\xH{82.3}\avD[5]{7.5}{89.7}\xL[ts]{16}{89.7}{Laura’s Share}\xH{97}\avM[5]{7.5}{104.3}\xL[ts]{16}{104.3}{Martin’s Share}\xH{111.6}\avG[5]{7.5}{119}\xL[ts]{16}{119}{Caitlin’s Share}\bk{126.7}{130}\ico{cam}{7.5}{136}{2.6}\xL[ts]{16}{136}{Attach Image of Receipt}\bk{143.3}{151}}
\phone{upload}{1072}{1003}{New Expense Upload}{\avD[5]{7.5}{18.3}\xL[ts]{16}{18.3}{Laura’s Share}\radioOn{74.5}{18.3}\xH{25.7}\avM[5]{7.5}{33.3}\xL[ts]{16}{33.3}{Martin’s Share}\radioOn{74.5}{33.3}\xH{40.7}\avG[5]{7.5}{48}\xL[ts]{16}{48}{Caitlin’s Share}\radioOn{74.5}{48}\bk{55}{58.3}\ico{cam}{6}{65}{2.4}
 \shade[top color=black!75,bottom color=black!60] (15.4,61.7) rectangle (76.4,107.3);\fill[black!30] (26,72) rectangle (66,104);\xC[ts,wt]{46}{66}{\textbf{Sainsbury’s}}\foreach \q in {76,80,84,88,92,96,100}{\draw[black!75,line width=.8pt] (30,\q) -- (62,\q);}
 \xR[ts]{78}{114.7}{Remove}\bk{121.7}{151}\btn{128.3}{142.7}{}{Save}\nav{}{New Expense}{}\xL[navt,lite]{4}{11}{Cancel}}
%% ROW 5
\phone{cal}{670.45}{1323}{Calendar}{\nav{Back}{Calendar}{}\ico{plus}{77}{11}{2.4}\calhead\calrow{40}{30,31,1,2,3,,5}\draw[txtc,line width=.6pt] (66,40) circle (2.6);\xC[tt]{66}{40}{4}\calrow{52.3}{6,7,\textbf{8},9,10,11,12}\calrow{65}{13,14,15,16,17,18,19}\calrow{77.7}{20,21,\textbf{22},23,24,25,26}\calrow{90.7}{\textbf{27},\textbf{28},\textbf{29},30,1,2,3}\foreach \q/\r in {29.8/55.8,29.8/81.2,5.5/94,17.7/94,29.8/94}{\fill[txtc] (\q,\r) circle (.5);}
 \bk{100}{103.3}\calitem{108.7}{Today}{No events today}\bk{115}{118}\calitem{124.3}{Next bill}{27th Council Tax}\bk{131}{134}\calitem{140}{Next event}{8th Take bins out}\bk{146.7}{151}}
\phone{calday}{804.3}{1323}{Calendar Bill Day}{\nav{Back}{Calendar}{}\ico{plus}{77}{11}{2.4}\calhead\calrow{40}{13,14,15,16,17,18,19}\calrow{52.7}{20,21,\textbf{22},23,24,25,26}\calrow{65.7}{\textbf{27},,\textbf{29},30,1,2,3}\draw[txtc,line width=.6pt] (17.7,65.7) circle (2.6);\xC[tt]{17.7}{65.7}{28}\foreach \q/\r in {29.8/56,5.5/69.5,17.7/69.5,29.8/69.5}{\fill[txtc] (\q,\r) circle (.5);}
 \bk{75}{78.3}\calitem{84}{Today}{Rent is due}\calitem{96.7}{}{Water due}\calitem{109.3}{}{Phone/Internet/TV due}\bk{116}{119}\calitem{125}{Next bill}{Tomorrow Gas}\bk{131}{134}\calitem{140.3}{Next event}{8th Take bins out}\bk{146.7}{151}}
\phone{newev}{938.15}{1323}{New Event}{\nav{Cancel}{New Event}{Add}\bk{17}{20}\xL[ts,lite]{6}{26}{Title}\bk{33}{36}\xL[ts]{4}{41.7}{All day event}\togOff{72}{41.7}\xH{48}\xL[ts]{4}{54.3}{Date}\xR[ts]{79}{54.3}{4th April 2015\quad 09:00}\xH{60.5}\xL[ts]{4}{67.3}{Repeat}\xR[ts,lite]{79}{67.3}{Every Month ›}\xH{73.5}\xL[ts]{4}{80}{Take turns}\xR[ts,lite]{79}{80}{Alternate between 4 ›}\bk{86.7}{90}\xL[ts,lite]{4}{96}{Notes}}
\phone{repeat}{1072}{1323}{Repeat}{\nav{‹}{Repeat}{}\bk{17}{20}\xL[ts]{5}{26}{Never}\radioOn{76}{26}\xH{32.5}\xL[ts]{5}{38.7}{Every Day}\xH{45}\xL[ts]{5}{51.7}{Every Week}\xH{58}\xL[ts]{5}{64.3}{Every 2 Weeks}\xH{70.5}\xL[ts]{5}{77}{Every Month}\xH{83.3}\xL[ts]{5}{89.7}{Every Year}\bk{95.7}{151}}
\phone{turns}{1205.85}{1323}{Take Turns}{\nav{‹}{Take Turns}{}\bk{17}{20}\xL[ts]{4}{26}{Notify All}\bk{31.7}{49}\xC[ts]{42}{40.3}{Select who’s involved,\\hold and drag to re-order.}\xL[ts]{4}{55.7}{Lee}\radioOn{76}{55.7}\xH{62}\xL[ts]{4}{68.3}{Laura}\radioOn{76}{68.3}\xH{74.6}\xL[ts]{4}{81}{Martin}\radioOn{76}{81}\xH{87.3}\xL[ts]{4}{93.7}{Caitlin}\radioOn{76}{93.7}\bk{100}{151}}
%% ROW 6
\phone{settings}{670}{1647}{Settings}{\nav{‹}{Settings}{}\bk{17}{20.3}\xL[ts]{7}{28.3}{Housemates}\xR[ts,lite]{78}{28.3}{›}\xH{35.6}\xL[ts]{7}{43}{The House}\xR[ts,lite]{78}{43}{›}\xH{50.5}\xL[ts]{7}{58}{The Bills}\xR[ts,lite]{78}{58}{›}\xH{65.3}\xL[ts]{7}{72.7}{Manage Notifications}\xR[ts,lite]{78}{72.7}{›}\xH{80}\xL[ts]{7}{87.3}{Profile}\xR[ts,lite]{78}{87.3}{›}\bk{94.7}{151}}
\phone{manage}{803.6}{1647}{Manage Housemates}{\nav{‹}{Housemates}{}\housemates\caitlin\xB{0}{128.3}{85}{151}{btnC}\xC[wt]{42}{140}{Add a new housemate}}
\phone{madmin}{937.2}{1647}{Manage Housemates Admin}{\nav{‹}{Housemates}{}\housemates\caitlin\xB{23}{43.3}{53.6}{65.3}{btnB}\xB{53.6}{43.3}{85}{65.3}{btnC!75!white}\xC[ts,wt]{38.3}{54.3}{Make\\Admin}\xC[ts,wt]{69.3}{54.3}{Remove\\Housemate}}
\phone{mnon}{1070.8}{1647}{Manage Housemates Non Admin}{\nav{‹}{Housemates}{}\housemates\caitlin\xB{23}{43.3}{53.6}{65.3}{btnB}\xB{53.6}{43.3}{85}{65.3}{btnC!75!white}\xC[ts,wt]{38.3}{54.3}{Request\\Admin}\xC[ts,wt]{69.3}{54.3}{Leave\\Housemate}}
\phone{rmadmin}{1204.4}{1647}{Remove Admin}{\nav{‹}{Housemates}{}\housemates\caitlin\xB{23}{21.3}{85}{43.3}{btnC}\xC[tt,wt]{54}{32.3}{You have to make one of your\\other housemates admin\\before you can leave this house.}\xB{0}{128.3}{85}{151}{btnC}\xC[wt]{42}{140}{Add a new housemate}}
\phone{invnew}{1338}{1647}{Invite New Housemate}{\nav{Cancel}{New Housemate}{}\bk{17}{55.3}\draw[txtc,line width=.5pt,rounded corners=1pt] (35,25.5) rectangle (47,48.5);\draw[txtc,line width=.4pt] (35,35) -- (47,35);\fill[txtc] (38,31) circle (.7);\fill[txtc] (38,38) circle (.7);\xL[ts,lite]{7}{63}{Name}\xH{70.3}\xL[ts,lite]{7}{77.7}{Email}\bk{85}{151}\btn{91.3}{106}{ts}{Invite housemate}}
\phone{hmreq}{1471.6}{1647}{Housemate Request}{\nav{‹}{Housemates}{}\housemates\lucy\xR[ts]{78}{101}{New\\Request}}
\phone{confirm}{1605.2}{1647}{Confirm Housemate Request}{\nav{‹}{Housemates}{}\housemates\lucy\xB{22.8}{91}{53.9}{113.3}{btnB}\xB{53.9}{91}{85}{113.3}{btnC!75!white}\xC[ts,wt]{38.3}{102}{Accept}\xC[ts,wt]{69.5}{102}{Decline}}
\phone{mhouse}{1738.8}{1647}{Manage House}{\nav{‹}{The House}{Edit}\bk{17}{55.3}\houseBig{40.7}{35.3}{15}{white}\xL[ts]{7}{63}{ClaphamNorthShare}\xH{70.3}\xL[ts]{7}{77.7}{Number of housemates}\xR[ts]{78}{77.7}{4}\xH{85}\xL[ts]{7}{92.3}{Univ. Yes}\bk{100}{151}}
\phone{notif}{1872.4}{1647}{Notifications}{\nav{‹}{Notifications}{}\bk{17}{20.3}\xL[ts]{7}{28.3}{Fridge Door Updates}\togOn{72}{28.3}\xH{35.6}\xL[ts]{7}{43}{Bill Updates}\togOn{72}{43}\xH{50.5}\xL[ts]{7}{58}{New Expenses}\togOn{72}{58}\xH{65.3}\xL[ts]{7}{72.7}{Offers \& News}\togOn{72}{72.7}\xH{80}\xL[ts]{7}{87.3}{Show on Locked Screen}\togOff{72}{87.3}\bk{94.3}{151}}
\phone{profile}{2006}{1647}{Manage Profile}{\nav{‹}{Your Profile}{}\bk{17}{55.3}\fill[btnC] (42,37) circle (13);\xC[font=\fontsize{17}{18}\selectfont,text=txtc]{42}{36}{L}\ico{house}{6}{63.3}{1.8}\xL[ts]{13}{63.3}{Lee}\xR[ts,lite]{79}{63.3}{Admin}\xH{70.5}\ico{tv}{6}{77.7}{1.8}\xL[ts]{13}{77.7}{lee@email.com}\xH{85}\ico{phone}{6}{92.3}{2}\xL[ts]{13}{92.3}{07800123456}\bk{100}{103.3}
 \xL[ts]{6}{111.3}{Use my current location}\xL[tt,text=txtc]{6}{117.5}{We do this so we can send you offers near\\you and you can find housemates}\togOn{73}{115.3}\xH{125}\xL[ts]{6}{134.7}{Send me news \& offers}\xL[tt]{6}{141}{We will never send you anything that is\\totally irrelevant to your bills only}\togOn{73}{139.3}}
\phone{joinnew}{2273}{1646}{Join New House}{\nav{‹}{Join a House}{}\bk{17}{20}\xL[ts,lite]{11}{28.7}{Search, enter house name}\xR[ts,lite]{79}{28.7}{›}\bk{36}{39.3}\xB{0}{39.3}{85}{47.7}{btnC}\xC[ts,wt]{42}{43.5}{Housemates near you}
 \joinrow{57}{2-MarlboroughRd}{Lee}\joinrow{79}{19Thamesfield}{Lee}\joinrow{101.3}{ClaphamHighStLads}{Paul}\joinrow{123.7}{ClaphamHighStLadies}{Sue}\joinrow{145.7}{ClaphamCommonShare}{Sue}}
\phone{joinreq}{2407}{1646}{Join New House Request}{\joinrow{27.7}{2-MarlboroughRd}{Lee}\joinrow{49.7}{19Thamesfield}{Lee}\joinrow{72}{ClaphamHighStLads}{Paul}\joinrow{94}{ClaphamHighStLadies}{Sue}\avG{8}{117.7}\xB{23}{106.3}{85}{128.7}{btnC}\xC[ts,wt]{54}{117.5}{Send Request}\joinrow{138.3}{15A, ClaphamCom}{Sue}\nav{‹}{Join a House}{}\xB{0}{18.7}{85}{27}{btnC}\xC[ts,wt]{42}{22.8}{Housemates near you}}
%% CONNECTORS
\coordinate (yTop) at (0,2);
\coordinate (busY) at (0,322);
\coordinate (loopR) at (2279,622);
\coordinate (loopL) at (47.5,622);
\coordinate (offB) at (1786,248);
\coordinate (offC) at (1790,248);
\coordinate (onB) at (2055.8,248);
\coordinate (spine) at (582,784.5);
\coordinate (y6a) at (0,1606);
\hlk{welcome}{create}{1.5}\hlk{create}{created}{1.5}\hlk{created}{build}{1.5}\hlk{build}{mates}{1.5}\hlk{mates}{built}{1.5}\hlk{built}{invite}{1.5}\hlk{invite}{billsplit1}{1.5}\hlk{billsplit1}{sel1}{1.5}\hlk{sel1}{sel2}{1.5}\hlk{sel2}{seladd}{1.5}\hlk{seladd}{selex}{1.5}\hlk{selex}{billsoff}{1.5}\hlk{billsoff}{currency}{1.5}\hlk{currency}{billson}{1.5}
\draw[conn] ([yshift=1.5pt]billson.east) -| (loopR) -- (loopL);
\draw[connt] (welcome.south) -- (login.north);
\draw[connt] (login.south) -- (fridge.north);
\draw[conn] (created.north) |- (joinnew.north |- yTop) -- (joinnew.north);
\ulink{build}{-.8}{mates}{-.8}{44}
\ulink{sel1}{1}{sel2}{0}{41.5}
\draw[conn] (offC) -- ++(0,33) -| (onB);
\draw[connt] (offB) -- (offB |- busY);
\draw[connt] ([yshift=3pt]rents.north) -- (rents.north |- busY) -- (exps.north |- busY) -- ([yshift=3pt]exps.north);
\foreach \nm in {councils,waters,gass,elecs,ges,phones,nets,tvs,pis,pits,lics,cleans}{\draw[connt] ([yshift=3pt]\nm.north) -- (\nm.north |- busY);}
\hlk{fridge}{fridgec}{-3}\hlk{fridgec}{menu}{-3}\hlk{menu}{split}{-3}\hlk{split}{sh1}{-3}
\ulink{sh1}{0}{sh5}{-.5}{41}
\foreach \nm in {sh2,sh3,sh4}{\draw[connt] (\nm.south) -- ++(0,41);}
\draw[connt] (spine) |- ([yshift=-8pt]expenses.west);
\draw[connt] (spine) |- ([yshift=-8pt]cal.west);
\draw[connt] (spine) |- ([yshift=-11pt]settings.west);
\ulink{expenses}{.3}{newexp}{-3}{40.5}
\draw[conn] (swap.south) -- ++(0,40.5);
\ulink{newexp}{1}{upload}{0}{40.5}
\ulink{cal}{.5}{calday}{-2.3}{41}
\ulink{calday}{2.3}{newev}{-1.2}{41}
\hlk{newev}{repeat}{1}\hlk{repeat}{turns}{1}
\hlk{manage}{madmin}{-6}\hlk{madmin}{mnon}{-6}\hlk{mnon}{rmadmin}{-6}\hlk{rmadmin}{invnew}{-6}\hlk{hmreq}{confirm}{-6}
\ulink{settings}{-1}{profile}{-2}{42.5}
\foreach \nm in {manage,mhouse,notif}{\draw[connt] (\nm.south) -- ++(0,42.5);}
\draw[conn] ([xshift=-1.6pt]manage.north) |- (joinnew.north |- y6a);
\draw[conn] ([xshift=2.8pt]manage.north) -- ++(0,-36) -| ([xshift=-1.5pt]hmreq.north);
\end{tikzpicture}
\end{document}
